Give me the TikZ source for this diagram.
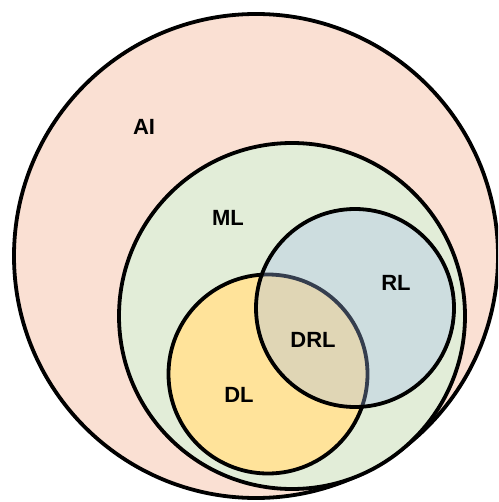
\documentclass[tikz,border=0pt]{standalone}
\usepackage{fontspec}
\setmainfont{Liberation Sans}
\definecolor{aifill}{RGB}{250,224,211}
\definecolor{mlfill}{RGB}{226,237,216}
\definecolor{dlfill}{RGB}{255,227,154}
\definecolor{rlfill}{RGB}{163,189,238}
\begin{document}
\begin{tikzpicture}[x=1pt,y=-1pt,
  setcircle/.style={circle, draw=black, line width=3.8pt, inner sep=0pt, outer sep=0pt},
  setlabel/.style={font=\fontsize{22}{25}\selectfont\bfseries, inner sep=0pt}]
  \useasboundingbox (0,0) rectangle (498,502);
  \clip (0,0) rectangle (498,502);
  % nested sets
  \node[setcircle, fill=aifill, minimum size=484pt] (ai) at (256,256) {};
  \node[setcircle, fill=mlfill, minimum size=346pt] (ml) at (292,316) {};
  \node[setcircle, fill=dlfill, minimum size=199pt] (dl) at (268,374) {};
  \node[setcircle, fill=rlfill, fill opacity=0.33, draw opacity=1, minimum size=198pt] (rl) at (355,308) {};
  % labels
  \node[setlabel] (tai) at (144,127) {AI};
  \node[setlabel] (tml) at (228,218) {ML};
  \node[setlabel] (trl) at (396,283) {RL};
  \node[setlabel] (tdrl) at (313,340) {DRL};
  \node[setlabel] (tdl) at (239,395) {DL};
\end{tikzpicture}
\end{document}
